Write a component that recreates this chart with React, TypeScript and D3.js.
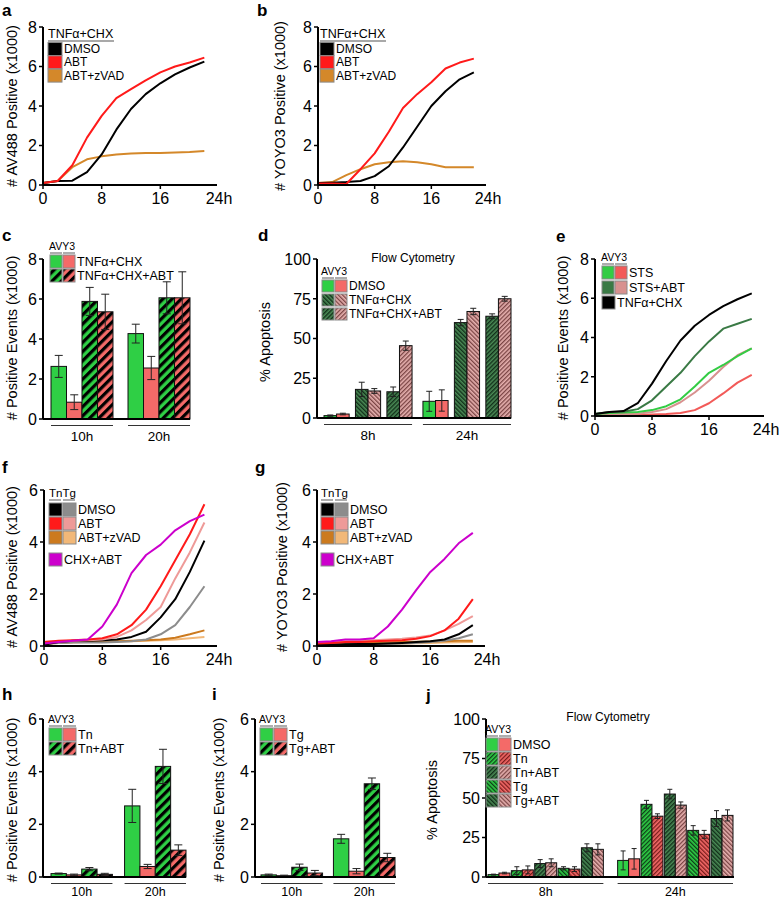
import React from "react";
import * as d3 from "d3";

const FONT = "'Liberation Sans', Arial, Helvetica, sans-serif";

// ---------- shared ----------
const hours = [0, 2, 4, 6, 8, 10, 12, 14, 16, 18, 20, 22];
const xTicks = [0, 8, 16, 24];
const ticks8 = [0, 2, 4, 6, 8];
const ticks6 = [0, 2, 4, 6];
const ticks100 = [0, 25, 50, 75, 100];

// ---------- colours ----------
const BLACK = "#000000";
const RED = "#ff1a1a";
const ORANGE = "#d4882a";
const GRAY = "#8c8c8c";
const PINKLINE = "#ee9a98";
const LTORANGE = "#f2b878";
const MAGENTA = "#cc00cc";
const GREEN = "#2fcf45";
const SALMON = "#f46a68";
const DKGREEN = "#4a8a55";
const PINK = "#e6b0ae";
const STSGREEN = "#33cc44";
const STSRED = "#f25a58";
const STSDK = "#3a7a45";
const STSPK = "#d8918f";

// ---------- panel a ----------
const aDMSO = [0.1, 0.2, 0.22, 0.65, 1.55, 2.8, 3.85, 4.6, 5.15, 5.6, 5.95, 6.25];
const aABT = [0.1, 0.2, 1.0, 2.4, 3.5, 4.4, 4.85, 5.3, 5.7, 6.0, 6.2, 6.45];
const aZVAD = [0.1, 0.2, 0.9, 1.3, 1.45, 1.55, 1.6, 1.62, 1.62, 1.65, 1.67, 1.72];
// ---------- panel b ----------
const bDMSO = [0.1, 0.12, 0.15, 0.2, 0.45, 0.95, 1.9, 2.95, 4.0, 4.75, 5.35, 5.7];
const bABT = [0.08, 0.08, 0.05, 0.8, 1.6, 2.7, 3.9, 4.6, 5.2, 5.9, 6.2, 6.4];
const bZVAD = [0.1, 0.15, 0.5, 0.8, 1.05, 1.15, 1.2, 1.15, 1.05, 0.9, 0.9, 0.9];
// ---------- panel e ----------
const eTNF = [0.1, 0.2, 0.25, 0.65, 1.65, 2.8, 3.85, 4.6, 5.15, 5.6, 5.95, 6.25];
const eSTSABTav = [0.1, 0.2, 0.22, 0.35, 0.8, 1.5, 2.2, 3.05, 3.8, 4.45, 4.7, 4.95];
const eSTSav = [0.1, 0.15, 0.18, 0.2, 0.3, 0.5, 0.85, 1.5, 2.2, 2.6, 3.05, 3.45];
const eSTSABTy3 = [0.1, 0.1, 0.1, 0.12, 0.2, 0.35, 0.7, 1.2, 1.8, 2.5, 3.1, 3.45];
const eSTSy3 = [0.05, 0.05, 0.05, 0.05, 0.08, 0.1, 0.15, 0.3, 0.65, 1.15, 1.7, 2.1];
// ---------- panel f ----------
const fCHXABT = [0.1, 0.15, 0.2, 0.25, 0.75, 1.6, 2.8, 3.5, 3.9, 4.45, 4.8, 5.05];
const fTnABT = [0.15, 0.2, 0.22, 0.25, 0.3, 0.45, 0.8, 1.4, 2.3, 3.3, 4.3, 5.45];
const fTgABT = [0.15, 0.18, 0.2, 0.22, 0.25, 0.35, 0.6, 1.0, 1.5, 2.6, 3.6, 4.75];
const fTnDMSO = [0.05, 0.15, 0.2, 0.2, 0.22, 0.25, 0.35, 0.55, 1.1, 1.8, 2.85, 4.05];
const fTgDMSO = [0.1, 0.12, 0.13, 0.13, 0.13, 0.15, 0.18, 0.25, 0.45, 0.8, 1.5, 2.3];
const fTnZVAD = [0.1, 0.12, 0.15, 0.15, 0.15, 0.18, 0.2, 0.22, 0.25, 0.32, 0.45, 0.6];
const fTgZVAD = [0.1, 0.12, 0.13, 0.15, 0.15, 0.17, 0.18, 0.2, 0.22, 0.25, 0.3, 0.35];
// ---------- panel g ----------
const gCHXABT = [0.15, 0.18, 0.25, 0.25, 0.3, 0.75, 1.4, 2.15, 2.85, 3.35, 3.95, 4.35];
const gTnABT = [0.1, 0.12, 0.15, 0.15, 0.18, 0.2, 0.22, 0.28, 0.38, 0.6, 1.05, 1.8];
const gTgABT = [0.12, 0.15, 0.18, 0.2, 0.22, 0.25, 0.28, 0.33, 0.4, 0.6, 0.85, 1.15];
const gTnDMSO = [0.05, 0.05, 0.07, 0.08, 0.08, 0.1, 0.12, 0.15, 0.18, 0.25, 0.45, 0.8];
const gTgDMSO = [0.05, 0.05, 0.06, 0.07, 0.08, 0.09, 0.1, 0.12, 0.15, 0.2, 0.3, 0.45];
const gTnZVAD = [0.1, 0.1, 0.12, 0.12, 0.13, 0.14, 0.15, 0.16, 0.17, 0.18, 0.2, 0.2];
const gTgZVAD = [0.05, 0.06, 0.07, 0.08, 0.09, 0.1, 0.1, 0.11, 0.12, 0.13, 0.14, 0.15];

// ---------- panel c ----------
const cGroups = ["10h", "20h"];
const cMeans = [[2.63, 0.84, 5.88, 5.36], [4.27, 2.55, 6.06, 6.06]];
const cErrs = [[0.55, 0.37, 0.7, 0.88], [0.47, 0.58, 0.8, 1.3]];
// ---------- panel d ----------
const dGroups = ["8h", "24h"];
const dMeans = [
  [[1.5, 2.5], [18, 17], [16.5, 45.5]],
  [[10.5, 11], [60, 67], [64, 75]],
];
const dErrs = [
  [[0.4, 0.5], [4.5, 1.5], [3, 2.9]],
  [[6.3, 6.7], [2, 2], [1.5, 1.5]],
];
// ---------- panel h ----------
const hGroups = ["10h", "20h"];
const hMeans = [[0.13, 0.08, 0.3, 0.1], [2.7, 0.4, 4.2, 1.02]];
const hErrs = [[0.02, 0.03, 0.06, 0.04], [0.63, 0.08, 0.65, 0.2]];
// ---------- panel i ----------
const iGroups = ["10h", "20h"];
const iMeans = [[0.08, 0.05, 0.37, 0.15], [1.45, 0.22, 3.54, 0.74]];
const iErrs = [[0.03, 0.02, 0.12, 0.1], [0.17, 0.1, 0.22, 0.16]];
// ---------- panel j ----------
const jGroups = ["8h", "24h"];
const jMeans = [
  [[1.5, 2.5], [4, 4.5], [8.5, 9], [5.5, 5], [18.5, 17.5]],
  [[10.5, 11.5], [46, 38.5], [52.5, 45.5], [29.5, 27], [37, 39]],
];
const jErrs = [
  [[0.3, 0.5], [2.5, 2.5], [2.5, 2.5], [1, 1.5], [2.5, 3.5]],
  [[6, 6.5], [2.5, 1.5], [3, 2], [3, 2.5], [5, 3.5]],
];

// ---------- helpers ----------
type Series = { values: number[]; color: string };

function Hatch({ id, bg, fg, angle, size, line }: any) {
  return (
    <pattern id={id} patternUnits="userSpaceOnUse" width={size} height={size} patternTransform={`rotate(${angle})`}>
      <rect width={size} height={size} fill={bg} />
      <rect width={line} height={size} fill={fg} />
    </pattern>
  );
}

function Letter({ x, y, t }: any) {
  return (
    <text x={x} y={y} fontSize={17} fontWeight="bold">
      {t}
    </text>
  );
}

function YTitle({ x, y, t }: any) {
  return (
    <text transform={`translate(${x},${y}) rotate(-90)`} textAnchor="middle" dy="0.35em" fontSize={14.5}>
      {t}
    </text>
  );
}

function YAxis({ x, y, ticks }: any) {
  const [lo, hi] = y.range();
  return (
    <g>
      <line x1={x} x2={x} y1={hi} y2={lo} stroke="#000" strokeWidth={2} />
      {ticks.map((t: number) => (
        <g key={t}>
          <line x1={x - 4} x2={x} y1={y(t)} y2={y(t)} stroke="#000" strokeWidth={1.5} />
          <text x={x - 6} y={y(t)} dy="0.36em" textAnchor="end" fontSize={16}>
            {t}
          </text>
        </g>
      ))}
    </g>
  );
}

function LinePanel({ x0, x1, yTop, yBottom, yMax, yTicks, series }: any) {
  const x = d3.scaleLinear().domain([0, 24]).range([x0, x1]);
  const y = d3.scaleLinear().domain([0, yMax]).range([yBottom, yTop]);
  const line = d3
    .line<number>()
    .x((_, i) => x(hours[i]))
    .y((v) => y(v));
  return (
    <g>
      {series.map((s: Series, i: number) => (
        <path key={i} d={line(s.values) || ""} fill="none" stroke={s.color} strokeWidth={2} strokeLinejoin="round" />
      ))}
      <YAxis x={x0} y={y} ticks={yTicks} />
      <line x1={x0} x2={x1 - 2} y1={yBottom} y2={yBottom} stroke="#000" strokeWidth={2} />
      {xTicks.map((t) => (
        <g key={t}>
          {t < 24 && <line x1={x(t)} x2={x(t)} y1={yBottom} y2={yBottom + 4} stroke="#000" strokeWidth={1.5} />}
          <text x={x(t)} y={yBottom + 19} textAnchor="middle" fontSize={16}>
            {t === 24 ? "24h" : t}
          </text>
        </g>
      ))}
    </g>
  );
}

function BarPanel({ axisX, xEnd, yTop, yBottom, yMax, yTicks, groups, means, errs, fills, gRange, gPad, cPad, cap, labDy, labFs }: any) {
  const y = d3.scaleLinear().domain([0, yMax]).range([yBottom, yTop]);
  const gx = d3.scaleBand<string>().domain(groups).range(gRange).paddingInner(gPad).paddingOuter(0);
  const nC = means[0].length;
  const cx = d3.scaleBand<number>().domain(d3.range(nC)).range([0, gx.bandwidth()]).paddingInner(cPad).paddingOuter(0);
  const nB = means[0][0].length;
  const bx = d3.scaleBand<number>().domain(d3.range(nB)).range([0, cx.bandwidth()]).padding(0);
  const bars: any[] = [];
  groups.forEach((g: string, gi: number) => {
    means[gi].forEach((cl: number[], ci: number) => {
      cl.forEach((v: number, bi: number) => {
        const left = (gx(g) || 0) + (cx(ci) || 0) + (bx(bi) || 0);
        const w = bx.bandwidth();
        const e = errs[gi][ci][bi];
        const mid = left + w / 2;
        bars.push(
          <g key={`${gi}-${ci}-${bi}`}>
            <rect x={left} y={y(v)} width={w} height={yBottom - y(v)} fill={fills[ci][bi]} stroke="#111" strokeWidth={1} />
            <line x1={mid} x2={mid} y1={y(v + e)} y2={y(Math.max(0, v - e))} stroke="#222" strokeWidth={1} />
            <line x1={mid - cap} x2={mid + cap} y1={y(v + e)} y2={y(v + e)} stroke="#222" strokeWidth={1} />
            <line x1={mid - cap} x2={mid + cap} y1={y(Math.max(0, v - e))} y2={y(Math.max(0, v - e))} stroke="#222" strokeWidth={1} />
          </g>
        );
      });
    });
  });
  return (
    <g>
      {bars}
      <YAxis x={axisX} y={y} ticks={yTicks} />
      <line x1={axisX} x2={xEnd} y1={yBottom} y2={yBottom} stroke="#000" strokeWidth={2} />
      {groups.map((g: string) => (
        <g key={g}>
          <line x1={gx(g)} x2={(gx(g) || 0) + gx.bandwidth()} y1={yBottom + 6.5} y2={yBottom + 6.5} stroke="#333" strokeWidth={1.2} />
          <text x={(gx(g) || 0) + gx.bandwidth() / 2} y={yBottom + labDy} textAnchor="middle" fontSize={labFs}>
            {g}
          </text>
        </g>
      ))}
    </g>
  );
}

function Sw({ x, y, w, h, fill }: any) {
  return <rect x={x} y={y} width={w} height={h} fill={fill} stroke="#8a8a8a" strokeWidth={1} />;
}

function Header({ x, y, t, cols, w, fs }: any) {
  return (
    <g>
      <text x={x} y={y} fontSize={fs}>
        {t}
      </text>
      {cols.map((c: number, i: number) => (
        <line key={i} x1={c} x2={c + w} y1={y + 3} y2={y + 3} stroke="#777" strokeWidth={1.2} />
      ))}
    </g>
  );
}

// legend for a / b
function TnfLegend({ x }: any) {
  const rows = [
    ["DMSO", BLACK],
    ["ABT", RED],
    ["ABT+zVAD", ORANGE],
  ];
  return (
    <g>
      <text x={x} y={38} fontSize={12.5}>
        TNFα+CHX
      </text>
      <line x1={x} x2={x + 66} y1={41} y2={41} stroke="#555" strokeWidth={1.2} />
      {rows.map((r, i) => (
        <g key={i}>
          <Sw x={x} y={42.5 + i * 13.3} w={14} h={13} fill={r[1]} />
          <text x={x + 16} y={53 + i * 13.3} fontSize={12}>
            {r[0]}
          </text>
        </g>
      ))}
    </g>
  );
}

// legend for f / g
function TnTgLegend({ x }: any) {
  const rows = [
    ["DMSO", BLACK, GRAY],
    ["ABT", RED, PINKLINE],
    ["ABT+zVAD", "#cc7a1e", LTORANGE],
  ];
  return (
    <g>
      <Header x={x} y={497} t="TnTg" cols={[x, x + 14]} w={12} fs={11.5} />
      {rows.map((r, i) => (
        <g key={i}>
          <Sw x={x} y={503 + i * 14} w={13} h={13} fill={r[1]} />
          <Sw x={x + 14} y={503 + i * 14} w={13} h={13} fill={r[2]} />
          <text x={x + 29} y={514 + i * 14} fontSize={12.5}>
            {r[0]}
          </text>
        </g>
      ))}
      <Sw x={x} y={553} w={13} h={13} fill={MAGENTA} />
      <text x={x + 15} y={564} fontSize={12.5}>
        CHX+ABT
      </text>
    </g>
  );
}

function PairLegend({ x, y, labels, fills, fs, w, h, gap }: any) {
  return (
    <g>
      <Header x={x - 1} y={y} t="AVY3" cols={[x, x + w + 1]} w={w} fs={10.5} />
      {labels.map((l: string, i: number) => (
        <g key={i}>
          <Sw x={x} y={y + 5 + i * gap} w={w} h={h} fill={fills[i][0]} />
          <Sw x={x + w + 1} y={y + 5 + i * gap} w={w} h={h} fill={fills[i][1]} />
          <text x={x + 2 * w + 3} y={y + 5 + i * gap + h - 2} fontSize={fs}>
            {l}
          </text>
        </g>
      ))}
    </g>
  );
}

export default function App() {
  const thick = [["url(#thG)", "url(#thR)"]];
  const cFills = [[GREEN, SALMON, "url(#thG)", "url(#thR)"]];
  const dFills = [
    [GREEN, SALMON],
    ["url(#fDkB)", "url(#fPkB)"],
    ["url(#fDkF)", "url(#fPkF)"],
  ];
  const jFills = [
    [GREEN, SALMON],
    ["url(#fGF)", "url(#fRF)"],
    ["url(#fDkF)", "url(#fPkF)"],
    ["url(#fGB)", "url(#fRB)"],
    ["url(#fDkB)", "url(#fPkB)"],
  ];
  const wrap = (m: number[][]) => m.map((r) => [r]);
  return (
    <div style={{ position: "absolute", left: 0, top: 0, width: 779, height: 900, background: "#fff" }}>
      <svg width={779} height={900} style={{ display: "block", fontFamily: FONT }}>
        <defs>
          <Hatch id="thG" bg={GREEN} fg="#000" angle={45} size={6.5} line={3.2} />
          <Hatch id="thR" bg={SALMON} fg="#000" angle={45} size={6.5} line={3.2} />
          <Hatch id="fDkF" bg={DKGREEN} fg="#12301a" angle={45} size={3} line={1.4} />
          <Hatch id="fDkB" bg={DKGREEN} fg="#12301a" angle={-45} size={3} line={1.4} />
          <Hatch id="fPkF" bg={PINK} fg="#7a4444" angle={45} size={3} line={1.3} />
          <Hatch id="fPkB" bg={PINK} fg="#7a4444" angle={-45} size={3} line={1.3} />
          <Hatch id="fGF" bg={GREEN} fg="#0e3f18" angle={45} size={3} line={1.3} />
          <Hatch id="fGB" bg={GREEN} fg="#0e3f18" angle={-45} size={3} line={1.3} />
          <Hatch id="fRF" bg={SALMON} fg="#7a1c1c" angle={45} size={3} line={1.3} />
          <Hatch id="fRB" bg={SALMON} fg="#7a1c1c" angle={-45} size={3} line={1.3} />
        </defs>

        {/* a */}
        <Letter x={2} y={16} t="a" />
        <YTitle x={12} y={106} t="# AV488 Positive (x1000)" />
        <LinePanel
          x0={43} x1={219} yTop={27} yBottom={185} yMax={8} yTicks={ticks8}
          series={[
            { values: aZVAD, color: ORANGE },
            { values: aDMSO, color: BLACK },
            { values: aABT, color: RED },
          ]}
        />
        <TnfLegend x={48} />

        {/* b */}
        <Letter x={257} y={16} t="b" />
        <YTitle x={280} y={106} t="# YOYO3 Positive (x1000)" />
        <LinePanel
          x0={318} x1={488} yTop={27} yBottom={185} yMax={8} yTicks={ticks8}
          series={[
            { values: bZVAD, color: ORANGE },
            { values: bDMSO, color: BLACK },
            { values: bABT, color: RED },
          ]}
        />
        <TnfLegend x={320} />

        {/* c */}
        <Letter x={2} y={241} t="c" />
        <YTitle x={12} y={338} t="# Positive Events (x1000)" />
        <BarPanel
          axisX={43} xEnd={190} yTop={259} yBottom={419} yMax={8} yTicks={ticks8}
          groups={cGroups} means={wrap(cMeans)} errs={wrap(cErrs)} fills={cFills}
          gRange={[51, 190]} gPad={0.195} cPad={0} cap={4} labDy={22} labFs={13.5}
        />
        <PairLegend x={50} y={250} labels={["TNFα+CHX", "TNFα+CHX+ABT"]} fills={[[GREEN, SALMON], thick[0]]} fs={12.5} w={12} h={13} gap={14} />

        {/* d */}
        <Letter x={258} y={241} t="d" />
        <YTitle x={265} y={342} t="% Apoptosis" />
        <text x={413} y={262} textAnchor="middle" fontSize={12}>Flow Cytometry</text>
        <BarPanel
          axisX={317} xEnd={511} yTop={259} yBottom={418} yMax={100} yTicks={ticks100}
          groups={dGroups} means={dMeans} errs={dErrs} fills={dFills}
          gRange={[324, 511]} gPad={0.11} cPad={0.2} cap={3} labDy={22} labFs={13.5}
        />
        <PairLegend x={322} y={275} labels={["DMSO", "TNFα+CHX", "TNFα+CHX+ABT"]} fills={dFills} fs={12} w={12} h={12} gap={14} />

        {/* e */}
        <Letter x={556} y={242} t="e" />
        <YTitle x={563} y={338} t="# Positive Events (x1000)" />
        <LinePanel
          x0={595} x1={766} yTop={259} yBottom={416} yMax={8} yTicks={ticks8}
          series={[
            { values: eSTSy3, color: STSRED },
            { values: eSTSABTy3, color: STSPK },
            { values: eSTSav, color: STSGREEN },
            { values: eSTSABTav, color: STSDK },
            { values: eTNF, color: BLACK },
          ]}
        />
        <PairLegend x={602} y={261} labels={["STS", "STS+ABT"]} fills={[[STSGREEN, STSRED], [STSDK, STSPK]]} fs={12.5} w={12} h={13} gap={15} />
        <Sw x={602} y={296} w={13} h={13} fill={BLACK} />
        <text x={617} y={307} fontSize={12.5}>TNFα+CHX</text>

        {/* f */}
        <Letter x={2} y={473} t="f" />
        <YTitle x={12} y={567} t="# AV488 Positive (x1000)" />
        <LinePanel
          x0={44} x1={219} yTop={490} yBottom={646} yMax={6} yTicks={ticks6}
          series={[
            { values: fTgZVAD, color: LTORANGE },
            { values: fTnZVAD, color: "#cc7a1e" },
            { values: fTgDMSO, color: GRAY },
            { values: fTnDMSO, color: BLACK },
            { values: fTgABT, color: PINKLINE },
            { values: fTnABT, color: RED },
            { values: fCHXABT, color: MAGENTA },
          ]}
        />
        <TnTgLegend x={49} />

        {/* g */}
        <Letter x={255} y={473} t="g" />
        <YTitle x={282} y={567} t="# YOYO3 Positive (x1000)" />
        <LinePanel
          x0={317} x1={487} yTop={490} yBottom={646} yMax={6} yTicks={ticks6}
          series={[
            { values: gTgZVAD, color: LTORANGE },
            { values: gTnZVAD, color: "#cc7a1e" },
            { values: gTgDMSO, color: GRAY },
            { values: gTnDMSO, color: BLACK },
            { values: gTgABT, color: PINKLINE },
            { values: gTnABT, color: RED },
            { values: gCHXABT, color: MAGENTA },
          ]}
        />
        <TnTgLegend x={321} />

        {/* h */}
        <Letter x={2} y={700} t="h" />
        <YTitle x={12} y={800} t="# Positive Events (x1000)" />
        <BarPanel
          axisX={43} xEnd={186} yTop={719} yBottom={877} yMax={6} yTicks={ticks6}
          groups={hGroups} means={wrap(hMeans)} errs={wrap(hErrs)} fills={cFills}
          gRange={[51, 186]} gPad={0.165} cPad={0} cap={4} labDy={18.5} labFs={12.5}
        />
        <PairLegend x={49} y={723} labels={["Tn", "Tn+ABT"]} fills={[[GREEN, SALMON], thick[0]]} fs={12.5} w={13} h={13} gap={14} />

        {/* i */}
        <Letter x={212} y={700} t="i" />
        <YTitle x={219} y={800} t="# Positive Events (x1000)" />
        <BarPanel
          axisX={255} xEnd={396} yTop={719} yBottom={877} yMax={6} yTicks={ticks6}
          groups={iGroups} means={wrap(iMeans)} errs={wrap(iErrs)} fills={cFills}
          gRange={[261, 395]} gPad={0.15} cPad={0} cap={4} labDy={18.5} labFs={12.5}
        />
        <PairLegend x={260} y={723} labels={["Tg", "Tg+ABT"]} fills={[[GREEN, SALMON], thick[0]]} fs={12.5} w={13} h={13} gap={14} />

        {/* j */}
        <Letter x={426} y={701} t="j" />
        <YTitle x={432} y={800} t="% Apoptosis" />
        <text x={608} y={721} textAnchor="middle" fontSize={12}>Flow Cytometry</text>
        <BarPanel
          axisX={486} xEnd={734} yTop={719} yBottom={877} yMax={100} yTicks={ticks100}
          groups={jGroups} means={jMeans} errs={jErrs} fills={jFills}
          gRange={[488, 733]} gPad={0.11} cPad={0.06} cap={2.5} labDy={18.5} labFs={12.5}
        />
        <PairLegend x={486} y={733} labels={["DMSO", "Tn", "Tn+ABT", "Tg", "Tg+ABT"]} fills={jFills} fs={12.5} w={12} h={13} gap={14} />
      </svg>
    </div>
  );
}
